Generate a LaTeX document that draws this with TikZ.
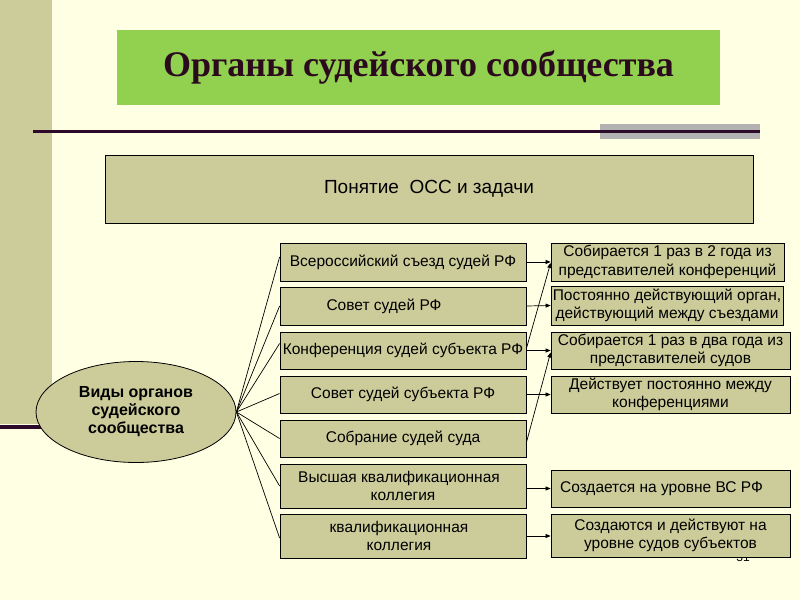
\documentclass[tikz,border=0pt]{standalone}
\usepackage{fontspec}
\setmainfont{Liberation Sans}
\newfontfamily\titlefont{Liberation Serif}
\usetikzlibrary{shapes.geometric,arrows.meta,calc}
\definecolor{bgc}{HTML}{FFFFE3}
\definecolor{khaki}{HTML}{CCCC9B}
\definecolor{titlegreen}{HTML}{92D050}
\definecolor{darkline}{HTML}{2E0A2A}
\definecolor{titletext}{HTML}{2B0A1E}
\definecolor{grayrect}{HTML}{B2B2B2}
\tikzset{
  box/.style={draw=black, line width=0.8pt, fill=khaki, rectangle, inner sep=0pt, align=center,
    font=\fontsize{15.5}{18.5}\selectfont},
  conn/.style={draw=black, line width=0.7pt},
  arr/.style={draw=black, line width=0.7pt, -{Triangle[length=5pt,width=4pt]}},
}
\begin{document}
\begin{tikzpicture}[x=1pt,y=-1pt]
\useasboundingbox (0,0) rectangle (800,600);
\fill[bgc] (0,0) rectangle (800,600);
% left strip
\fill[khaki] (0,0) rectangle (52,424);
\fill[darkline] (0,425) rectangle (70,429);
% title
\node[fill=titlegreen, minimum width=603pt, minimum height=75pt, inner sep=0pt,
      font=\titlefont\bfseries\fontsize{36}{42}\selectfont, text=titletext] (title) at (418.5,67) {Органы судейского сообщества};
% top rule
\fill[grayrect] (600,124) rectangle (760,139);
\fill[darkline] (33,129.5) rectangle (760,132.5);
% concept box
\node[box, minimum width=648pt, minimum height=68pt, font=\fontsize{19}{22}\selectfont] (concept) at (429,189) {Понятие\ \ ОСС и задачи};
% page number (mostly hidden)
\node[font=\fontsize{12}{14}\selectfont, text=black] (pnum) at (743,557) {31};
% left boxes
\node[box, minimum width=246pt, minimum height=38pt] (l1) at (403,262) {Всероссийский съезд судей РФ};
\node[box, minimum width=246pt, minimum height=38pt] (l2) at (403,306) {\hspace*{-38pt}Совет судей РФ};
\node[box, minimum width=246pt, minimum height=37pt] (l3) at (403,350.5) {Конференция судей\ субъекта РФ};
\node[box, minimum width=246pt, minimum height=37pt] (l4) at (403,394.5) {Совет судей субъекта РФ};
\node[box, minimum width=246pt, minimum height=37pt] (l5) at (403,438.5) {Собрание судей\ суда};
\node[box, minimum width=246pt, minimum height=44pt] (l6) at (403,486) {\hspace*{-8pt}Высшая квалификационная\\ коллегия};
\node[box, minimum width=246pt, minimum height=44pt] (l7) at (403,536) {\hspace*{-8pt}квалификационная\\ \hspace*{-8pt}коллегия};
% right boxes
\node[box, minimum width=233pt, minimum height=38pt] (r1) at (667.5,262) {Собирается 1 раз в 2 года из\\ представителей конференций};
\node[box, minimum width=232pt, minimum height=39pt] (r2) at (667,305.5) {Постоянно действующий\ орган,\\ действующий\ между съездами};
\node[box, minimum width=239pt, minimum height=37pt] (r3) at (670.5,350.5) {Собирается 1 раз в два года из\\ представителей судов};
\node[box, minimum width=239pt, minimum height=37pt] (r4) at (670.5,394.5) {Действует постоянно между\\ конференциями};
\node[box, minimum width=239pt, minimum height=37pt] (r5) at (670.5,488.5) {\hspace*{-18pt}Создается на уровне ВС РФ};
\node[box, minimum width=239pt, minimum height=43pt] (r6) at (670.5,535.5) {Создаются и действуют на\\ уровне судов субъектов};
% ellipse
\node[ellipse, draw=black, line width=0.8pt, fill=khaki, minimum width=200pt, minimum height=101pt, inner sep=0pt,
      align=center, font=\bfseries\fontsize{16}{18}\selectfont] (el) at (136,412) {Виды органов\\ судейского\\ сообщества};
% connectors from ellipse
\draw[conn] (el.east) -- ([yshift=5pt]l1.west);
\draw[conn] (el.east) -- (l2.west);
\draw[conn] (el.east) -- ([yshift=7pt]l3.west);
\draw[conn] (el.east) -- ([yshift=1pt]l4.west);
\draw[conn] (el.east) -- (l5.west);
\draw[conn] (el.east) -- (l6.west);
\draw[conn] (el.east) -- ([yshift=-2pt]l7.west);
% arrows
\draw[arr] (l1.east) -- (r1.west);
\draw[arr] (l2.east) -- (r2.west);
\draw[arr] (l3.east) -- (r3.west);
\draw[arr] (l4.east) -- (r4.west);
\draw[arr] (l6.east |- r5.west) -- (r5.west);
\draw[arr] (l7.east) -- (r6.west |- l7.east);
\draw[arr] ([yshift=2pt]l3.east) -- ([yshift=-1pt]r1.west);
\draw[arr] ([yshift=-4pt]l5.east) -- ([yshift=-2pt]r3.west);
\end{tikzpicture}
\end{document}
